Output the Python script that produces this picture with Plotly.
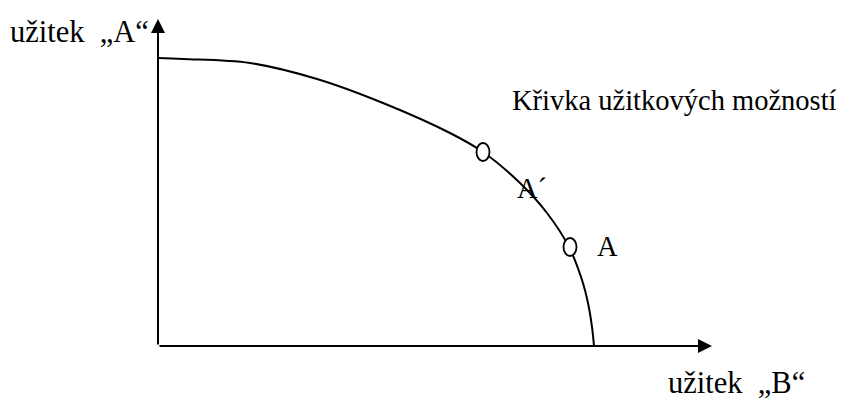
import plotly.graph_objects as go

# utility possibility frontier (B on x, A on y)
curve_b = [0, 25, 92, 159, 225, 292, 325, 362, 389, 411, 424, 430, 434, 436]
curve_a = [288, 287, 283, 267, 243, 213, 194, 163, 133, 99, 66, 43, 19, 0]

# marked points on the curve
point_names = ["A´", "A"]
point_b = [325, 412]
point_a = [194, 99]

# axis lengths (arrow tips)
axis_b_end = 554
axis_a_end = 327

# text labels
label_a_axis = "užitek\u2002„A“"
label_b_axis = "užitek\u2002„B“"
label_curve = "Křivka užitkových možností"

FONT = "Liberation Serif, Times New Roman, serif"
TXT = dict(family=FONT, size=28.5, color="black")
AXTXT = dict(family=FONT, size=30.5, color="black")

fig = go.Figure()

fig.add_trace(go.Scatter(
    x=curve_b, y=curve_a, mode="lines",
    line=dict(color="black", width=2, shape="spline", smoothing=1),
    hoverinfo="skip", showlegend=False,
))

# axes with arrowheads
fig.add_annotation(x=0, y=axis_a_end, ax=0, ay=0, axref="x", ayref="y",
                   text="", showarrow=True, arrowhead=2, arrowsize=1.4,
                   arrowwidth=2, arrowcolor="black", standoff=0)
fig.add_annotation(x=axis_b_end, y=0, ax=0, ay=0, axref="x", ayref="y",
                   text="", showarrow=True, arrowhead=2, arrowsize=1.4,
                   arrowwidth=2, arrowcolor="black", standoff=0)

# open ellipses at marked points
ew, eh = 6.5, 9
for b, a in zip(point_b, point_a):
    fig.add_shape(type="circle", xref="x", yref="y",
                  x0=b - ew, x1=b + ew, y0=a - eh, y1=a + eh,
                  line=dict(color="black", width=1.8), fillcolor="white")

# labels
fig.add_annotation(x=point_b[0] + 32, y=point_a[0] - 36, text=point_names[0],
                   showarrow=False, xanchor="left", yanchor="middle", font=TXT)
fig.add_annotation(x=point_b[1] + 25, y=point_a[1] + 1, text=point_names[1],
                   showarrow=False, xanchor="left", yanchor="middle", font=TXT)
fig.add_annotation(x=0, xref="paper", y=314, text=label_a_axis,
                   showarrow=False, xanchor="left", yanchor="middle", font=AXTXT)
fig.add_annotation(x=352, y=246, text=label_curve,
                   showarrow=False, xanchor="left", yanchor="middle", font=TXT)
fig.add_annotation(x=508, y=-37, text=label_b_axis,
                   showarrow=False, xanchor="left", yanchor="middle", font=AXTXT)

# page body has an 8px margin, so the figure is 840x393 and ranges start 8px in
fig.update_layout(
    width=840, height=393,
    margin=dict(l=0, r=0, t=0, b=0),
    paper_bgcolor="white", plot_bgcolor="white",
    xaxis=dict(range=[-150, 690], visible=False, fixedrange=True),
    yaxis=dict(range=[-55, 338], visible=False, fixedrange=True),
    showlegend=False,
)

fig.write_html("out.html")
